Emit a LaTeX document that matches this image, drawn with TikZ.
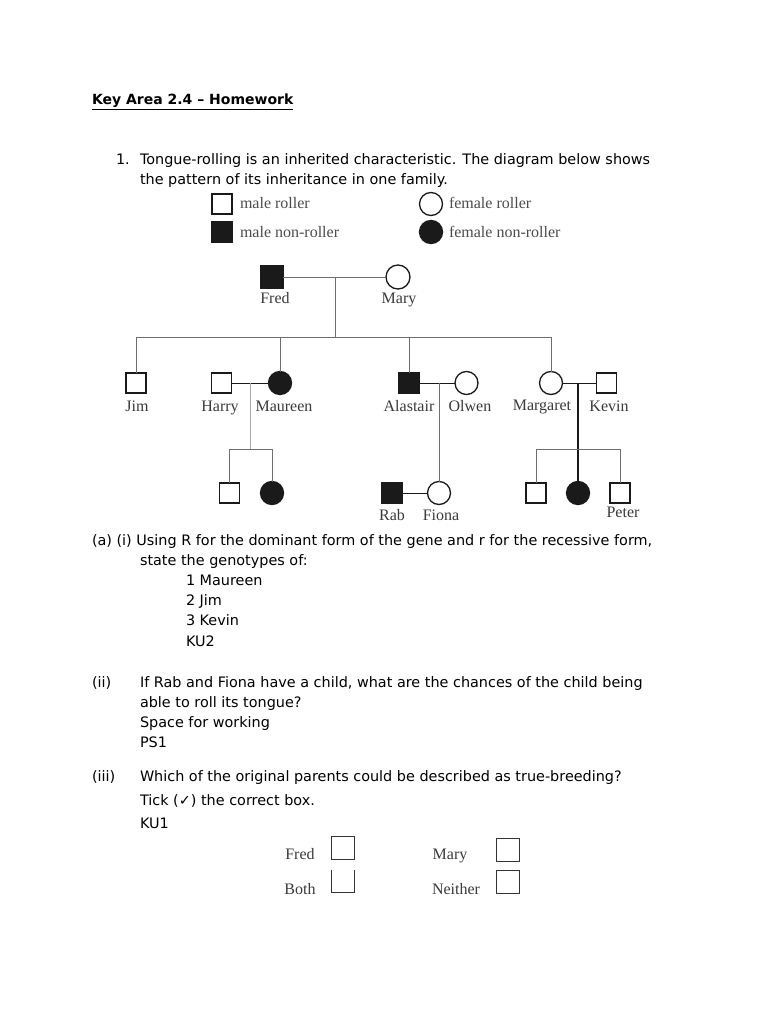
\documentclass[tikz,border=0pt]{standalone}
\usepackage{fontspec}
\setmainfont{DejaVu Sans}
\newfontfamily\pedfont{Liberation Serif}
\usetikzlibrary{calc}
\definecolor{ink}{HTML}{1A1A1A}
\definecolor{lineg}{HTML}{6E6E6E}
\definecolor{paleg}{HTML}{ABABAB}
\definecolor{lbl}{HTML}{3A3A3A}
\tikzset{
  every node/.style={inner sep=0pt,outer sep=0pt},
  txt/.style={anchor=base west,font=\fontsize{14.4}{17}\selectfont,text=black},
  pname/.style={anchor=base,font=\pedfont\fontsize{16}{16}\selectfont,text=lbl},
  legtxt/.style={pname,anchor=base west,text=black!70},
  male/.style={draw=ink,line width=1.3pt,minimum size=20pt,fill=white},
  malenr/.style={male,fill=ink},
  female/.style={circle,draw=ink,line width=1.3pt,minimum size=23pt,fill=white},
  femalenr/.style={female,fill=ink},
  link/.style={draw=lineg,line width=1pt},
  couple/.style={draw=ink,line width=1pt},
  thinlink/.style={draw=paleg,line width=0.7pt},
  boldlink/.style={draw=ink,line width=1.8pt},
  tickbox/.style={draw=black!80,line width=0.8pt,minimum width=23pt,minimum height=23pt},
}

\begin{document}
\begin{tikzpicture}[x=1pt,y=-1pt]
  \useasboundingbox[fill=white] (0,0) rectangle (770,1024);

  % heading and question
  \node[txt,font=\bfseries\fontsize{14}{17}\selectfont] (title) at (92,105) {\underline{Key Area 2.4 – Homework}};
  \node[txt] (qnum) at (116,165) {1.};
  \node[txt] (q1a) at (140,165) {Tongue-rolling is an inherited characteristic. The diagram below shows};
  \node[txt] (q1b) at (140,185) {the pattern of its inheritance in one family.};

  % key
  \node[male] (keymr) at (222,204) {};
  \node[legtxt] (keymrt) at (240,209) {male roller};
  \node[female] (keyfr) at (431,204) {};
  \node[legtxt] (keyfrt) at (449,209) {female roller};
  \node[malenr] (keymn) at (222,232) {};
  \node[legtxt] (keymnt) at (240,237) {male non-roller};
  \node[femalenr] (keyfn) at (431,232) {};
  \node[legtxt] (keyfnt) at (449,237) {female non-roller};

  % first generation
  \node[malenr,minimum size=22pt] (fred) at (272,277) {};
  \node[female,minimum size=24pt] (mary) at (398,277) {};
  \node[pname] (fredn) at (275,303) {Fred};
  \node[pname] (maryn) at (399,303) {Mary};
  \coordinate (fm) at ($(fred)!0.5!(mary)$);
  \coordinate (sibbar) at (0,337);
  \coordinate (kidbar) at (0,449);

  % second generation
  \node[male] (jim) at (136,383) {};
  \node[male] (harry) at (221.5,383) {};
  \node[femalenr] (maureen) at (280,383) {};
  \node[malenr] (alastair) at (409,383) {};
  \node[female] (olwen) at (466.5,383) {};
  \node[female] (margaret) at (551,383) {};
  \node[male] (kevin) at (606.5,383) {};
  \node[pname] (jimn) at (137,411) {Jim};
  \node[pname] (harryn) at (220,411) {Harry};
  \node[pname] (maureenn) at (284,411) {Maureen};
  \node[pname] (alastairn) at (409,411) {Alastair};
  \node[pname] (olwenn) at (470,411) {Olwen};
  \node[pname] (margaretn) at (542,410) {Margaret};
  \node[pname] (kevinn) at (609,411) {Kevin};

  % third generation
  \node[male] (hmson) at (229.5,493) {};
  \node[femalenr] (hmdau) at (272,493) {};
  \node[malenr] (rab) at (392,493) {};
  \node[female] (fiona) at (439,493) {};
  \node[male] (mkson) at (536,493) {};
  \node[femalenr] (mkdau) at (578,493) {};
  \node[male] (peter) at (620,493) {};
  \node[pname] (rabn) at (392,520) {Rab};
  \node[pname] (fionan) at (441,520) {Fiona};
  \node[pname] (petern) at (623,517) {Peter};

  % connectors
  \draw[link] (fred) -- (mary);
  \draw[link] (fm) -- (fm |- sibbar);
  \draw[link] (jim.north) |- (margaret.north |- sibbar) -- (margaret.north);
  \draw[link] (maureen.north) -- (maureen.north |- sibbar);
  \draw[link] (alastair.north) -- (alastair.north |- sibbar);

  \draw[couple] (harry) -- (maureen);
  \coordinate (hm) at ($(harry)!0.5!(maureen)$);
  \draw[thinlink] (hm) -- (hm |- kidbar);
  \draw[link] (hmson.north) |- (hmdau.north |- kidbar) -- (hmdau.north);

  \draw[couple] (alastair) -- (olwen);
  \draw[link] (fiona.north |- alastair) -- (fiona.north);
  \draw[couple] (rab) -- (fiona);

  \draw[couple] (margaret) -- (kevin);
  \draw[boldlink] (mkdau.north |- margaret) -- (mkdau.north);
  \draw[link] (mkson.north) |- (peter.north |- kidbar) -- (peter.north);

  % part (a)
  \node[txt] (ai) at (92,545) {(a) (i) Using R for the dominant form of the gene and r for the recessive form,};
  \node[txt] (aib) at (140,565) {state the genotypes of:};
  \node[txt] (ai1) at (186,585) {1 Maureen};
  \node[txt] (ai2) at (186,605) {2 Jim};
  \node[txt] (ai3) at (186,625) {3 Kevin};
  \node[txt] (aiku) at (186,646) {KU2};

  \node[txt] (iinum) at (92,687) {(ii)};
  \node[txt] (ii) at (140,687) {If Rab and Fiona have a child, what are the chances of the child being};
  \node[txt] (iib) at (140,707) {able to roll its tongue?};
  \node[txt] (iic) at (140,727) {Space for working};
  \node[txt] (iips) at (140,747) {PS1};

  \node[txt] (iiinum) at (92,781) {(iii)};
  \node[txt] (iii) at (140,781) {Which of the original parents could be described as true-breeding?};
  \node[txt] (iiib) at (140,805) {Tick (✓) the correct box.};
  \node[txt] (iiiku) at (140,828) {KU1};

  % tick boxes
  \node[pname] (tfred) at (300,859) {Fred};
  \node[tickbox] (bfred) at (343,848) {};
  \node[pname] (tmary) at (450,859) {Mary};
  \node[tickbox] (bmary) at (507.5,849.5) {};
  \node[pname] (tboth) at (300,894) {Both};
  \node[tickbox,draw=none] (bboth) at (343,881) {};
  \draw[black!80,line width=0.8pt] (bboth.north west) -- (bboth.south west) -- (bboth.south east) -- (bboth.north east);
  \node[pname] (tneither) at (456,894) {Neither};
  \node[tickbox] (bneither) at (507.5,881.5) {};
\end{tikzpicture}
\end{document}
